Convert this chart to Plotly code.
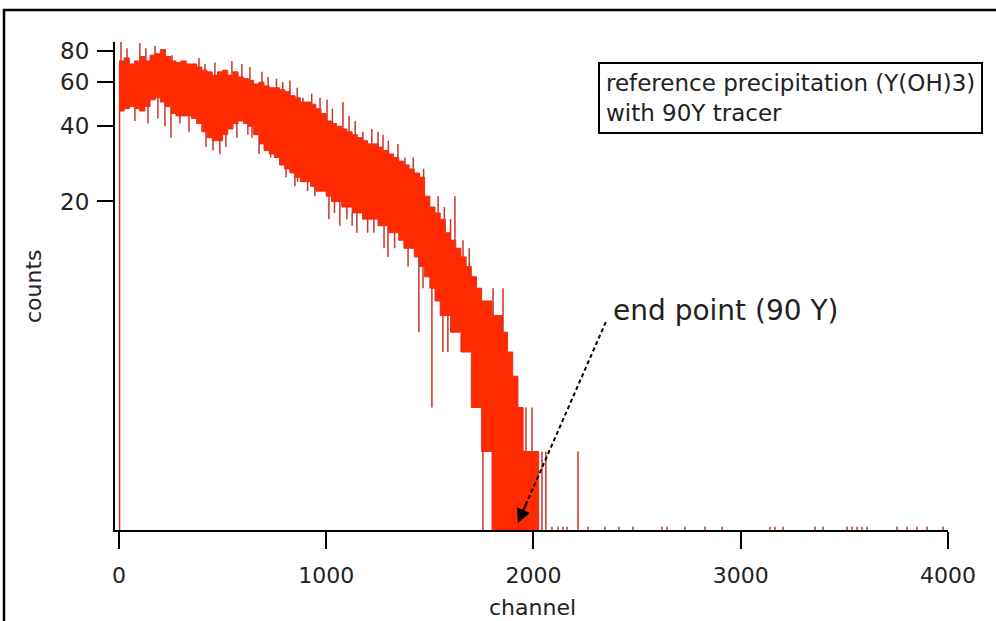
import math
import plotly.graph_objects as go

# ---------------- data ----------------
bin_width = 25  # channels per envelope bin

# upper edge of the noisy counts band, one value per 25-channel bin (channel 0 .. 2050)
upper_counts = [73, 75, 71, 73, 76, 73, 77, 78, 81, 76,
                73, 72, 73, 71, 71, 69, 67, 66, 64, 66,
                67, 64, 66, 63, 62, 61, 59, 60, 58, 57,
                57, 56, 55, 53, 52, 50, 50, 49, 47, 45,
                42, 41, 40, 39, 38, 37, 36, 35, 34, 34,
                33, 32, 31, 30, 29, 28, 27, 26, 25, 21,
                19, 18, 17, 15, 14, 13, 12, 11, 10, 9,
                8, 8, 7, 7, 6, 5, 4, 3, 2, 2,
                2, 0, 0]

# lower edge of the band, same bins
lower_counts = [46, 47, 48, 47, 46, 48, 51, 52, 50, 48,
                45, 44, 44, 44, 43, 41, 38, 36, 35, 35,
                37, 39, 41, 42, 41, 40, 37, 34, 32, 31,
                30, 28, 27, 26, 25, 24, 24, 23, 22, 22,
                21, 20, 20, 19, 19, 18, 18, 17, 17, 17,
                16, 16, 15, 15, 14, 13, 13, 12, 11, 10,
                9, 8, 7, 7, 6, 6, 5, 5, 3, 3,
                2, 2, 0, 0, 0, 0, 0, 0, 0, 0,
                0, 0, 0]

# isolated channels sticking out of the band, and the sparse tail counts
spike_channels = [3, 10, 39, 77, 101, 130, 140, 174, 188, 222,
                  251, 256, 294, 318, 338, 386, 415, 420, 454, 463,
                  487, 516, 545, 569, 593, 622, 632, 642, 676, 690,
                  720, 732, 760, 770, 790, 806, 825, 849, 860, 862,
                  888, 910, 930, 945, 970, 1004, 1013, 1030, 1040, 1066,
                  1081, 1100, 1110, 1125, 1140, 1148, 1177, 1200, 1220, 1230,
                  1250, 1274, 1279, 1298, 1300, 1330, 1346, 1380, 1395, 1420,
                  1447, 1467, 1470, 1510, 1540, 1563, 1570, 1587, 1600, 1621,
                  1660, 1690, 1756, 1805, 1853, 1964, 1993, 2041, 2060, 2089,
                  2118, 2142, 2162, 2215, 2263, 2345, 2412, 2480, 2620, 2644,
                  2731, 2828, 2910, 3141, 3165, 3204, 3358, 3397, 3513, 3537,
                  3561, 3585, 3609, 3754, 3802, 3850, 3899, 3976]
spike_counts = [0, 87, 82, 42, 86, 82, 41, 84, 43, 40,
                36, 77, 41, 73, 38, 75, 71, 33, 32, 72,
                31, 33, 73, 36, 71, 37, 69, 36, 31, 66,
                63, 30, 62, 30, 60, 25, 61, 23, 57, 24,
                52, 22, 54, 21, 52, 51, 17, 47, 18, 16,
                50, 17, 44, 16, 42, 15, 38, 15, 39, 15,
                38, 37, 13, 12, 35, 13, 34, 30, 11, 30,
                6, 9, 27, 3, 21, 5, 19, 5, 17, 21,
                14, 13, 0, 9, 9, 3, 3, 2, 2, 1,
                1, 1, 1, 2, 1, 1, 1, 1, 1, 1,
                1, 1, 1, 1, 1, 1, 1, 1, 1, 1,
                1, 1, 1, 1, 1, 1, 1, 1]

x_tick_vals = [0, 1000, 2000, 3000, 4000]
y_tick_vals = [20, 40, 60, 80]

legend_text = "reference precipitation (Y(OH)3)<br>with 90Y tracer"
arrow_text = "end point (90 Y)"
x_title = "channel"
y_title = "counts"

# ---------------- figure ----------------
ZERO_FLOOR = 0.5  # zero counts cannot sit on a log axis: draw them below the axis floor


def disp(v):
    return v if v > 0 else ZERO_FLOOR


assert len(upper_counts) == len(lower_counts)
assert len(spike_channels) == len(spike_counts)
bin_channels = [i * bin_width for i in range(len(upper_counts))]

RED = "#ff2a00"
EDGE = "#e3301f"

fig = go.Figure()
fig.add_trace(go.Scatter(x=bin_channels, y=[disp(v) for v in lower_counts],
                         mode="lines", line=dict(color=EDGE, width=1, shape="hv"),
                         hoverinfo="skip"))
fig.add_trace(go.Scatter(x=bin_channels, y=[disp(v) for v in upper_counts],
                         mode="lines", line=dict(color=EDGE, width=1, shape="hv"),
                         fill="tonexty", fillcolor=RED, hoverinfo="skip"))

sx, sy = [], []
for ch, v in zip(spike_channels, spike_counts):
    i = ch // bin_width
    if i < len(upper_counts):
        hi, lo = upper_counts[i], lower_counts[i]
    else:
        hi = lo = 0
    if v > hi:
        base = hi
    elif v < lo:
        base = lo
    else:
        continue
    sx += [ch, ch, None]
    sy += [disp(base), disp(v), None]
fig.add_trace(go.Scatter(x=sx, y=sy, mode="lines",
                         line=dict(color="#cf3226", width=1.5), hoverinfo="skip"))

fig.update_layout(
    width=996, height=621,
    margin=dict(l=115, r=48, t=42, b=91),
    paper_bgcolor="white", plot_bgcolor="white", showlegend=False,
    font=dict(family="DejaVu Sans", size=22, color="#222222"),
)
fig.update_xaxes(range=[-19, 4000], tickvals=x_tick_vals, ticks="outside",
                 ticklen=17, tickwidth=2, tickcolor="black", showline=True,
                 linecolor="black", linewidth=2, showgrid=False, zeroline=False,
                 ticklabelstandoff=8, automargin=False)
fig.update_yaxes(type="log", range=[-0.013, 1.939], tickvals=y_tick_vals,
                 ticks="outside", ticklen=16, tickwidth=2, tickcolor="black",
                 showline=True, linecolor="black", linewidth=2, showgrid=False,
                 zeroline=False, ticklabelstandoff=3, automargin=False,
                 tickfont=dict(size=23))

PL, PT, PW, PH = 115, 42, 833, 488


def px(x):
    return (x - PL) / PW


def py(y):
    return (PT + PH - y) / PH


# axis titles
fig.add_annotation(text=x_title, xref="paper", yref="paper", x=px(532), y=py(607),
                   xanchor="center", yanchor="middle", showarrow=False,
                   font=dict(size=22))
fig.add_annotation(text=y_title, xref="paper", yref="paper", x=px(33), y=0.5,
                   xanchor="center", yanchor="middle", textangle=-90,
                   showarrow=False, font=dict(size=22))

# legend box
fig.add_annotation(text=legend_text, xref="paper", yref="paper", x=px(598), y=py(62),
                   xanchor="left", yanchor="top", align="left", showarrow=False,
                   bordercolor="black", borderwidth=2, borderpad=6, bgcolor="white",
                   font=dict(size=23))

# end point label with dashed arrow (annotation y in log units, shape y in data units)
tip_ch, tip_c = 1925, 1.035
neck_ch, neck_c = 1973, 1.28
tail_ch, tail_c = 2349, 6.59
fig.add_annotation(text=arrow_text, xref="x", yref="y", x=2374, y=math.log10(7.36),
                   xanchor="left", yanchor="middle", showarrow=False,
                   font=dict(size=28))
fig.add_shape(type="line", xref="x", yref="y", x0=tail_ch, y0=tail_c,
              x1=neck_ch, y1=neck_c,
              line=dict(color="black", width=2, dash="4px,3px"))
fig.add_annotation(text="", xref="x", yref="y", axref="x", ayref="y",
                   x=tip_ch, y=math.log10(tip_c), ax=neck_ch, ay=math.log10(neck_c),
                   showarrow=True, arrowhead=2, arrowsize=1.4, arrowwidth=2,
                   arrowcolor="black")

# outer frame of the picture
fig.add_shape(type="rect", xref="paper", yref="paper", x0=px(4), x1=px(1002),
              y0=py(630), y1=py(10), line=dict(color="black", width=2.5),
              fillcolor="rgba(0,0,0,0)", layer="below")

# the page itself should have no margin so the figure fills the window exactly
fig.write_html("out.html", config={"displayModeBar": False},
               post_script="document.body.style.margin='0';")
